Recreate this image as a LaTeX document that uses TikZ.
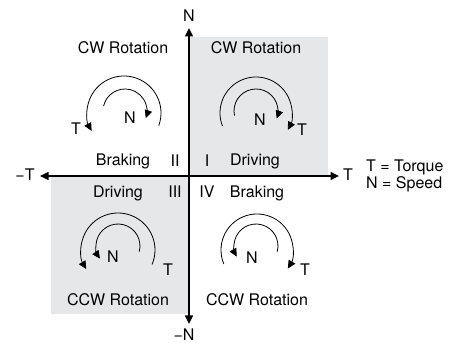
\documentclass[tikz,border=0pt]{standalone}
\usepackage{fontspec}
\setmainfont{TeX Gyre Heros}
\usetikzlibrary{arrows.meta}
\definecolor{quadgray}{RGB}{230,231,232}
\tikzset{
  lbl/.style={inner sep=0pt, text height=11.5pt, text depth=0pt, font=\fontsize{16}{19}\selectfont},
  axisline/.style={line width=1.3pt, -{Triangle[length=8.5pt,width=8pt]}},
  rotarc/.style={line width=0.8pt, -{Triangle[length=8pt,width=7.5pt]}},
  quad/.style={fill=quadgray, draw=none}
}
\begin{document}
\begin{tikzpicture}[x=1pt,y=1pt]
\useasboundingbox (0,0) rectangle (451,343);
% shaded quadrants
\fill[quad] (189,167) rectangle (328,306);
\fill[quad] (51,29) rectangle (189,167);
% axes
\coordinate (o) at (189,167);
\coordinate (tp) at (339,167);
\coordinate (tn) at (40,167);
\coordinate (np) at (189,315);
\coordinate (nn) at (189,19);
\draw[axisline] (o) -- (tp);
\draw[axisline] (o) -- (tn);
\draw[axisline] (o) -- (np);
\draw[axisline] (o) -- (nn);
% axis labels
\node[lbl] (lN) at (189,327) {N};
\node[lbl] (lmN) at (184,8) {−N};
\node[lbl] (lmT) at (25,168) {−T};
\node[lbl] (lT) at (348,168) {T};
\node[lbl, anchor=west] (leg1) at (366,177) {T = Torque};
\node[lbl, anchor=west] (leg2) at (366,160) {N = Speed};
% quadrant texts
\node[lbl] (r2) at (123,295) {CW Rotation};
\node[lbl] (r1) at (256,295) {CW Rotation};
\node[lbl] (b2) at (123,183) {Braking};
\node[lbl] (q2) at (175,182) {II};
\node[lbl] (q1) at (207,182) {I};
\node[lbl] (d1) at (255,183) {Driving};
\node[lbl] (d3) at (118,151) {Driving};
\node[lbl] (q3) at (175,151) {III};
\node[lbl] (q4) at (207,151) {IV};
\node[lbl] (b4) at (257,151) {Braking};
\node[lbl] (r3) at (118,43) {CCW Rotation};
\node[lbl] (r4) at (257,43) {CCW Rotation};
% arc centres
\coordinate (c2o) at (124,230); \coordinate (c2i) at (125,232);
\coordinate (c1o) at (256,230); \coordinate (c1i) at (256,232);
\coordinate (c3o) at (118,93);  \coordinate (c3i) at (118,97);
\coordinate (c4o) at (257,93);  \coordinate (c4i) at (256,97);
% Quadrant II
\draw[rotarc] ([shift={(-20:37)}]c2o) arc[start angle=-20, end angle=209, radius=37];
\draw[rotarc] ([shift={(167:22)}]c2i) arc[start angle=167, end angle=-19, radius=22];
\node[lbl] (t2) at (76,214) {T};
\node[lbl] (n2) at (130,225) {N};
% Quadrant I
\draw[rotarc] ([shift={(201:36)}]c1o) arc[start angle=201, end angle=-28, radius=36];
\draw[rotarc] ([shift={(192:22)}]c1i) arc[start angle=192, end angle=-20, radius=22];
\node[lbl] (n1) at (260,223) {N};
\node[lbl] (t1) at (302,213) {T};
% Quadrant III
\draw[rotarc] ([shift={(-23:37)}]c3o) arc[start angle=-23, end angle=211, radius=37];
\draw[rotarc] ([shift={(-15:22)}]c3i) arc[start angle=-15, end angle=215, radius=22];
\node[lbl] (t3) at (168,73) {T};
\node[lbl] (n3) at (113,86) {N};
% Quadrant IV
\draw[rotarc] ([shift={(203:36)}]c4o) arc[start angle=203, end angle=-31, radius=36];
\draw[rotarc] ([shift={(-15:22)}]c4i) arc[start angle=-15, end angle=209, radius=22];
\node[lbl] (n4) at (252,85) {N};
\node[lbl] (t4) at (305,73) {T};
\end{tikzpicture}
\end{document}
